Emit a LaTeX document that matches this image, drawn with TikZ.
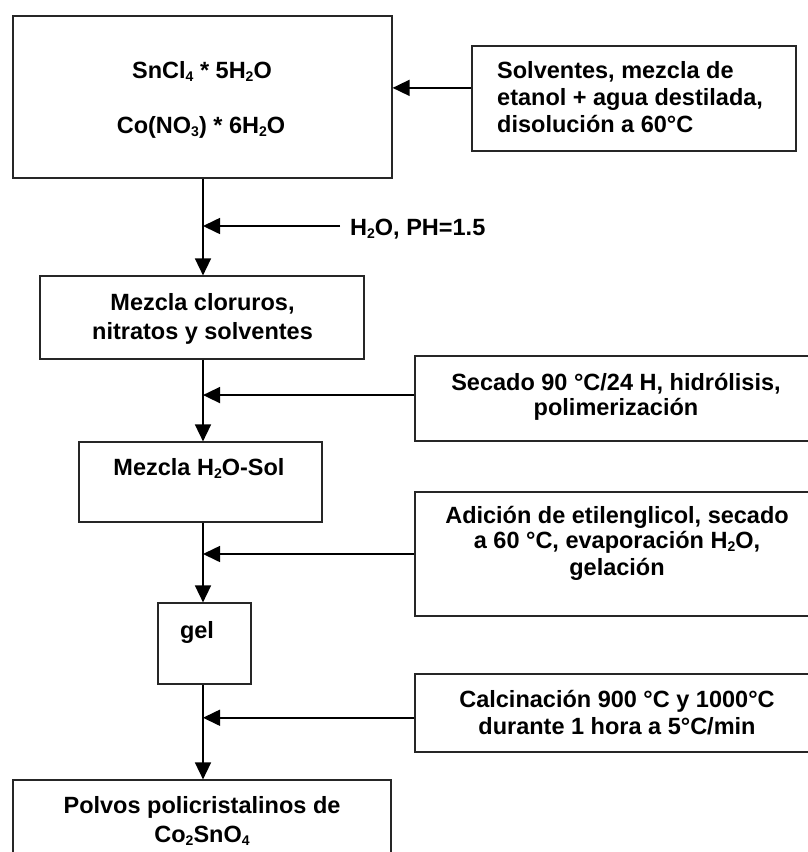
\documentclass[tikz,border=0pt]{standalone}
\usepackage{fontspec}
\setmainfont{Liberation Sans}
\usetikzlibrary{arrows.meta,calc}
% chemical subscript, set in the same bold face
\newcommand{\chemsub}[1]{\raisebox{-3pt}{\fontsize{14}{14}\selectfont #1}}
\begin{document}
\begin{tikzpicture}[x=1pt,y=-1pt,
  box/.style={draw=black!85,line width=1.2pt,inner sep=0pt},
  lbl/.style={inner sep=0pt,font=\bfseries\fontsize{23.5}{27}\selectfont,align=center},
  flow/.style={line width=1.6pt,-{Triangle[length=17pt,width=16pt]}}]
\clip (0,0) rectangle (808,852);
\fill[white] (0,0) rectangle (808,852);
\coordinate (spine) at (203,0);

% process boxes
\node[box,minimum width=379pt,minimum height=162pt] (b1)  at (202.5,97)   {};
\node[box,minimum width=324pt,minimum height=105pt] (src) at (634,98.5)   {};
\node[box,minimum width=324pt,minimum height=83pt]  (b2)  at (202,317.5)  {};
\node[box,minimum width=403pt,minimum height=85pt]  (s2)  at (616.5,398.5){};
\node[box,minimum width=243pt,minimum height=80pt]  (b3)  at (200.5,482)  {};
\node[box,minimum width=403pt,minimum height=124pt] (s3)  at (616.5,554)  {};
\node[box,minimum width=93pt, minimum height=81pt]  (gel) at (204.5,643.5){};
\node[box,minimum width=403pt,minimum height=78pt]  (s4)  at (616.5,713)  {};
\node[box,minimum width=378pt,minimum height=90pt]  (b5)  at (202,825)    {};

% texts (base anchor = baseline of the last line)
\node[lbl,anchor=base] (t1a) at (202,78) {SnCl\chemsub{4} * 5H\chemsub{2}O};
\node[lbl,anchor=base] (t1b) at (201,133) {Co(NO\chemsub{3}) * 6H\chemsub{2}O};
\node[lbl,anchor=base west,align=left] (tsrc) at (497,132)
  {Solventes, mezcla de\\etanol + agua destilada,\\disolución a 60°C};
\node[lbl,anchor=base west] (ph) at (350,235) {H\chemsub{2}O, PH=1.5};
\node[lbl,anchor=base] (t2) at (202.5,339) {Mezcla cloruros,\\[2pt]nitratos y solventes};
\node[lbl,anchor=base] (ts2) at (616,415) {Secado 90 °C/24 H, hidrólisis,\\[-2pt]polimerización};
\node[lbl,anchor=base] (t3) at (199,475) {Mezcla H\chemsub{2}O-Sol};
\node[lbl,anchor=base] (ts3) at (617,575)
  {Adición de etilenglicol, secado\\[-2pt]a 60 °C, evaporación H\chemsub{2}O,\\gelación};
\node[lbl,anchor=base] (tgel) at (197,638) {gel};
\node[lbl,anchor=base] (ts4) at (617,734) {Calcinación 900 °C y 1000°C\\durante 1 hora a 5°C/min};
\node[lbl,anchor=base] (t5) at (202,842) {Polvos policristalinos de\\[2pt]Co\chemsub{2}SnO\chemsub{4}};

% main flow
\draw[flow] (b1.south -| spine) -- (b2.north -| spine);
\draw[flow] (b2.south -| spine) -- (b3.north -| spine);
\draw[flow] (b3.south -| spine) -- (gel.north -| spine);
\draw[flow] (gel.south -| spine) -- (b5.north -| spine);

% side inputs
\coordinate (srcw) at ($(src.north west)!0.4!(src.south west)$);
\draw[flow] (srcw) -- (srcw -| b1.east);
\coordinate (phs) at (340,226);
\draw[flow] (phs) -- (phs -| spine);
\coordinate (s2w) at ($(s2.north west)!0.46!(s2.south west)$);
\draw[flow] (s2w) -- (s2w -| spine);
\draw[flow] (s3.west) -- (s3.west -| spine);
\coordinate (s4w) at ($(s4.north west)!0.56!(s4.south west)$);
\draw[flow] (s4w) -- (s4w -| spine);
\end{tikzpicture}
\end{document}
